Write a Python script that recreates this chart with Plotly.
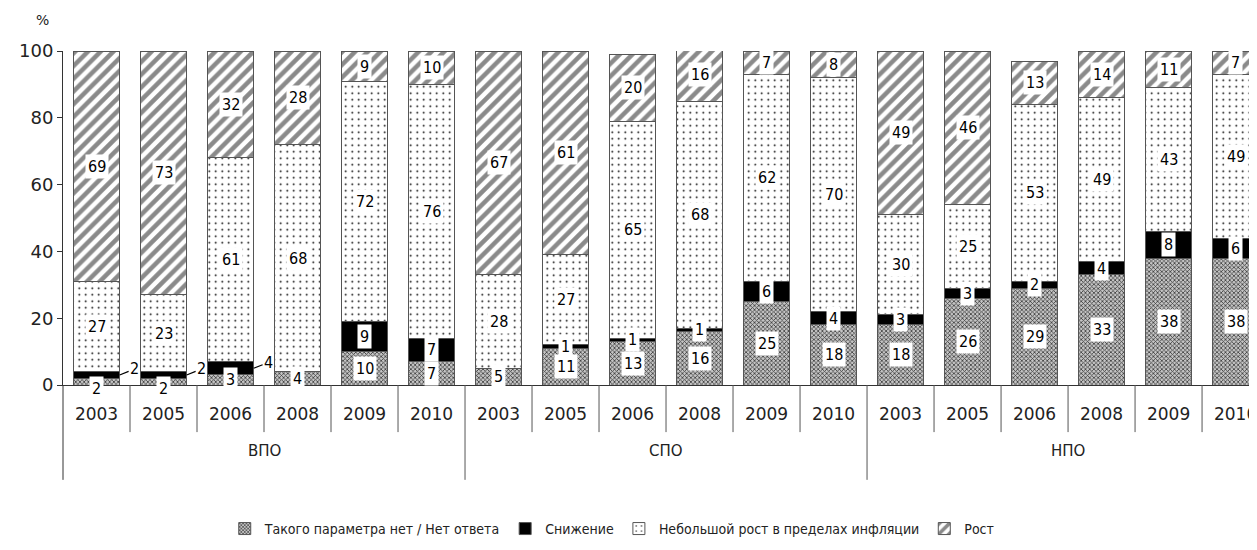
import plotly.graph_objects as go

groups = ["ВПО", "СПО", "НПО"]
years = ["2003", "2005", "2006", "2008", "2009", "2010"]

no_answer = [2, 2, 3, 4, 10, 7, 5, 11, 13, 16, 25, 18, 18, 26, 29, 33, 38, 38]
decrease = [2, 2, 4, 0, 9, 7, 0, 1, 1, 1, 6, 4, 3, 3, 2, 4, 8, 6]
small_growth = [27, 23, 61, 68, 72, 76, 28, 27, 65, 68, 62, 70, 30, 25, 53, 49, 43, 49]
growth = [69, 73, 32, 28, 9, 10, 67, 61, 20, 16, 7, 8, 49, 46, 13, 14, 11, 7]

series_names = [
    "Такого параметра нет / Нет ответа",
    "Снижение",
    "Небольшой рост в пределах инфляции",
    "Рост",
]
series_values = [no_answer, decrease, small_growth, growth]

n_years = len(years)
x_idx = list(range(len(groups) * n_years))
tick_text = years * len(groups)

BARGAP = 0.31
LABEL_FONT = dict(family="Liberation Sans Narrow, Arial Narrow, DejaVu Sans Condensed, sans-serif", size=16, color="black")
AXIS_FONT = dict(family="DejaVu Sans, Verdana, sans-serif", size=17, color="#222")

patterns = [
    dict(shape="x", size=3, solidity=0.45, fgcolor="#3a3a3a", bgcolor="#c4c4c4", fillmode="replace"),
    None,
    dict(shape=".", size=6.5, solidity=0.06, fgcolor="#000000", bgcolor="#ffffff", fillmode="replace"),
    dict(shape="/", size=9, solidity=0.5, fgcolor="#8a8a8a", bgcolor="#ffffff", fillmode="replace"),
]
colors = ["#8a8a8a", "#000000", "#ffffff", "#ffffff"]

fig = go.Figure()
for name, vals, pat, col in zip(series_names, series_values, patterns, colors):
    marker = dict(color=col, line=dict(color="#555555", width=1))
    if pat is not None:
        marker["pattern"] = pat
    fig.add_trace(go.Bar(
        x=x_idx, y=vals, name=name, marker=marker,
        cliponaxis=False, hoverinfo="y+name",
    ))

# value labels
annotations = []
base = [0] * len(x_idx)
half_w = (1 - BARGAP) / 2
for s, vals in enumerate(series_values):
    for i, v in enumerate(vals):
        mid = base[i] + v / 2
        if v > 0:
            if s == 0 and i in (0, 1):
                annotations.append(dict(x=i, y=0, xref="x", yref="y", text=str(v), showarrow=False,
                                        yshift=-3, bgcolor="white", font=LABEL_FONT, borderpad=2))
            elif s == 1 and i in (0, 1, 2):
                annotations.append(dict(x=i + half_w, y=mid, xref="x", yref="y", text=str(v),
                                        showarrow=True, arrowhead=0, arrowwidth=1.2, arrowcolor="black",
                                        ax=15, ay=-6, standoff=0, font=LABEL_FONT))
            else:
                annotations.append(dict(x=i, y=mid, xref="x", yref="y", text=str(v), showarrow=False,
                                        bgcolor="white", font=LABEL_FONT, borderpad=2))
        base[i] += v

# group labels
for g, name in enumerate(groups):
    annotations.append(dict(x=g * n_years + (n_years - 1) / 2, y=-0.198, xref="x", yref="paper",
                            text=name, showarrow=False, yanchor="middle",
                            font=dict(family="DejaVu Sans, sans-serif", size=15, color="#222")))
annotations.append(dict(x=-0.01, y=1.093, xref="paper", yref="paper", text="%", showarrow=False,
                        xanchor="right", yanchor="middle",
                        font=dict(family="DejaVu Sans, sans-serif", size=14, color="#222")))

# separators below the axis
shapes = []
for i in range(len(x_idx) - 1):
    is_group = (i + 1) % n_years == 0
    shapes.append(dict(type="line", xref="x", yref="paper", x0=i + 0.5, x1=i + 0.5,
                       y0=0, y1=-0.284 if is_group else -0.141,
                       line=dict(color="#555", width=1)))
shapes.append(dict(type="line", xref="paper", yref="paper", x0=0, x1=0, y0=0, y1=-0.284,
                   line=dict(color="#333", width=1)))

fig.update_layout(
    width=1249, height=542,
    margin=dict(l=55, r=0, t=43, b=165),
    paper_bgcolor="white", plot_bgcolor="white",
    barmode="stack", bargap=BARGAP,
    showlegend=True,
    legend=dict(orientation="h", x=0.46, xanchor="center", y=-0.431, yanchor="middle",
                traceorder="normal",
                font=dict(family="DejaVu Sans Condensed, Liberation Sans, sans-serif", size=14, color="#222")),
    annotations=annotations,
    shapes=shapes,
    font=dict(family="DejaVu Sans, sans-serif"),
)
fig.update_xaxes(
    range=[-0.5, 17.32], tickvals=x_idx, ticktext=tick_text, ticks="",
    showline=True, linecolor="#333", linewidth=1, showgrid=False, zeroline=False,
    tickfont=AXIS_FONT, ticklabelstandoff=14, ticklabeloverflow="allow",
)
fig.update_yaxes(
    range=[0, 100], tickvals=[0, 20, 40, 60, 80, 100], ticks="outside", ticklen=5,
    tickcolor="#333", showline=True, linecolor="#333", linewidth=1, showgrid=False,
    zeroline=False, tickfont=dict(family="DejaVu Sans, Verdana, sans-serif", size=18, color="#222"),
)

fig.write_html("out.html")
